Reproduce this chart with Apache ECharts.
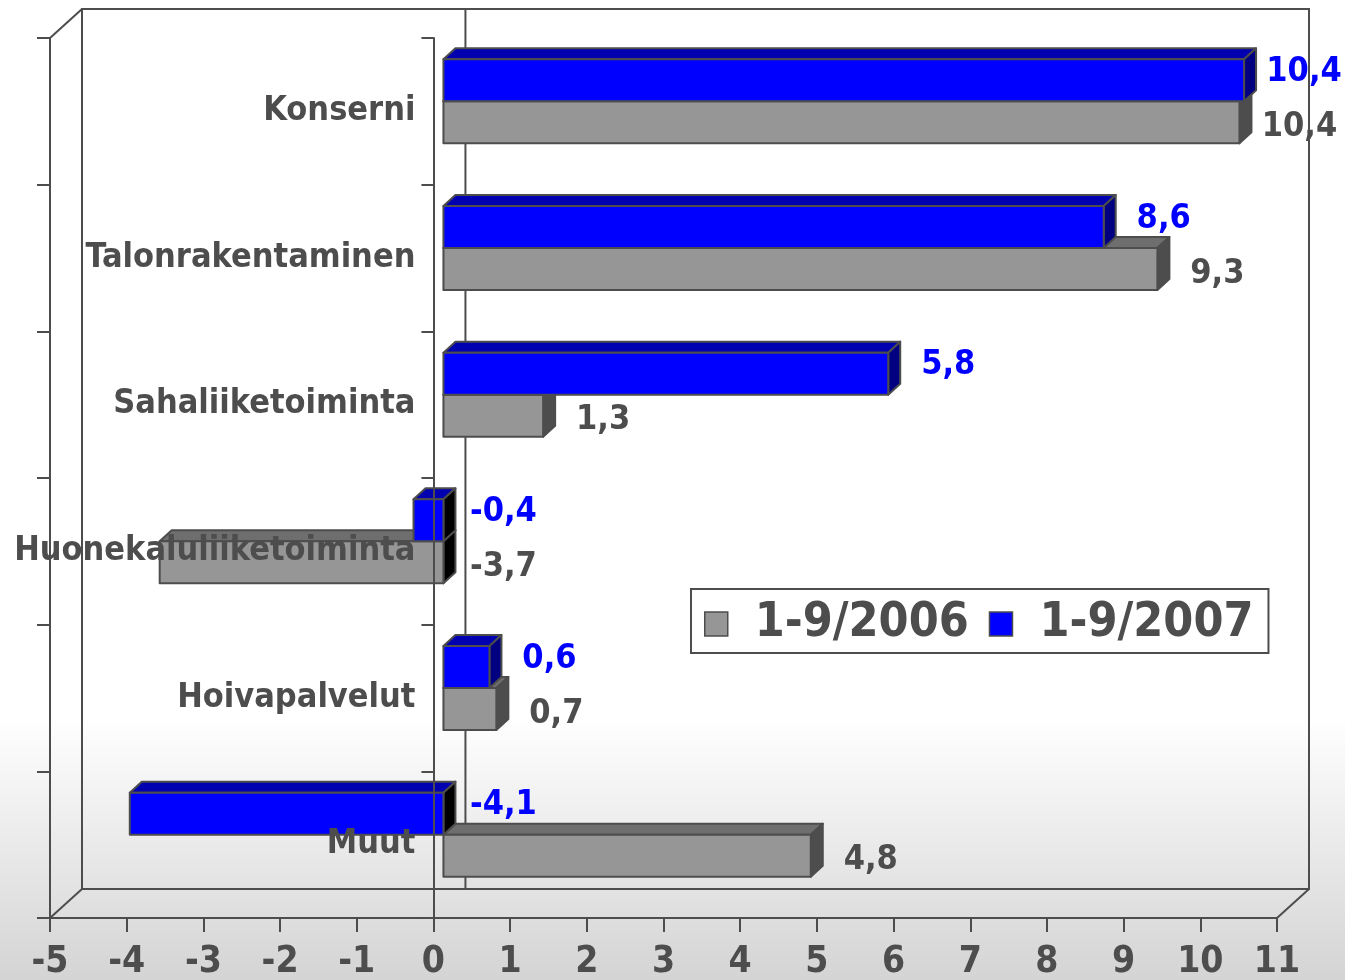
<!DOCTYPE html>
<html>
<head>
<meta charset="utf-8">
<script src="https://cdn.jsdelivr.net/npm/echarts@6/dist/echarts.min.js"></script>
<style>
html,body{margin:0;padding:0;background:#fff}
#chart{width:1345px;height:980px}
</style>
</head>
<body>
<div id="chart"></div>
<script>
var categories = ['Konserni', 'Talonrakentaminen', 'Sahaliiketoiminta', 'Huonekaluliiketoiminta', 'Hoivapalvelut', 'Muut'];
var values2006 = [10.38, 9.31, 1.3, -3.7, 0.69, 4.79];
var values2007 = [10.44, 8.61, 5.8, -0.39, 0.6, -4.09];
var seriesNames = ['1-9/2006', '1-9/2007'];
var xMin = -5, xMax = 11;

var FONT = "'DejaVu Sans Condensed', 'DejaVu Sans', sans-serif";
var INK = '#4d4d4d';
var W = 1345, H = 980;
var GRID = {left: 50, right: 68, top: 38, bottom: 62};
var DX = 32, DY = -29;   // depth of the box
var BX = 10, BY = -10;   // bars sit a little way into the box
var BD = 12, BH = 11;    // depth of a bar
var BAR = 42;

var colors = [
    {front: '#969696', top: '#6e6e6e', side: '#4d4d4d', text: INK},
    {front: '#0000ff', top: '#0000b0', side: '#000080', text: '#0000ff'}
];

// the category axis stands on x = 0, shift it there from the left edge
var zeroOffset = -(0 - xMin) / (xMax - xMin) * (W - GRID.left - GRID.right);

function fmt(v) {
    return v.toFixed(1).replace('.', ',');
}

function barItem(kind) {
    return function (params, api) {
        var cat = api.value(0), val = api.value(1);
        var p0 = api.coord([0, cat]), p1 = api.coord([val, cat]);
        var cy = p0[1] + BY;
        var top = kind === 0 ? cy : cy - BAR;
        var bot = top + BAR;
        var xa = p0[0] + BX, xb = p1[0] + BX;
        var l = Math.min(xa, xb), r = Math.max(xa, xb);
        var c = colors[kind];
        var edge = {stroke: INK, lineWidth: 2, lineJoin: 'round'};
        return {
            type: 'group',
            children: [
                {type: 'polygon', shape: {points: [[l, top], [l + BD, top - BH], [r + BD, top - BH], [r, top]]},
                    style: Object.assign({fill: c.top}, edge)},
                {type: 'polygon', shape: {points: [[r, top], [r + BD, top - BH], [r + BD, bot - BH], [r, bot]]},
                    style: Object.assign({fill: val < 0 ? '#000000' : c.side}, edge)},
                {type: 'rect', shape: {x: l, y: top, width: r - l, height: BAR},
                    style: Object.assign({fill: c.front}, edge)},
                {type: 'text', x: r + 60, y: (top + bot) / 2 + (kind === 0 ? 5 : -8),
                    style: {text: fmt(val), fill: c.text, font: 'bold 34px ' + FONT, align: 'center', verticalAlign: 'middle'}}
            ]
        };
    };
}

function frameItem(params, api) {
    var g = params.coordSys;
    var x = g.x, y = g.y, w = g.width, h = g.height;
    var zx = api.coord([0, 0])[0];
    var st = {stroke: INK, lineWidth: 2, fill: null};
    return {
        type: 'group',
        children: [
            {type: 'polyline', shape: {points: [[x + DX, y + h + DY], [x + DX, y + DY], [x + w + DX, y + DY], [x + w + DX, y + h + DY], [x + DX, y + h + DY]]}, style: st},
            {type: 'line', shape: {x1: x, y1: y, x2: x + DX, y2: y + DY}, style: st},
            {type: 'line', shape: {x1: x, y1: y + h, x2: x + DX, y2: y + h + DY}, style: st},
            {type: 'line', shape: {x1: x + w, y1: y + h, x2: x + w + DX, y2: y + h + DY}, style: st},
            {type: 'line', shape: {x1: zx + DX, y1: y + DY, x2: zx + DX, y2: y + h + DY}, style: st}
        ]
    };
}

var chart = echarts.init(document.getElementById('chart'));
var option = {
    animation: false,
    backgroundColor: {
        type: 'linear', x: 0, y: 0, x2: 0, y2: 1,
        colorStops: [{offset: 0, color: '#ffffff'}, {offset: 0.73, color: '#ffffff'}, {offset: 1, color: '#d4d4d4'}]
    },
    grid: {left: GRID.left, right: GRID.right, top: GRID.top, bottom: GRID.bottom, outerBoundsMode: 'none'},
    legend: {
        left: 691, top: 589,
        padding: [11, 15, 5, 13],
        backgroundColor: '#fff', borderColor: INK, borderWidth: 2,
        itemWidth: 23, itemHeight: 24, itemGap: 20, icon: 'rect',
        selectedMode: false,
        itemStyle: {borderColor: INK, borderWidth: 1.5},
        textStyle: {fontSize: 48, fontWeight: 'bold', fontFamily: FONT, color: INK, padding: [0, 0, 0, 22], lineHeight: 48},
        data: [
            {name: seriesNames[0], itemStyle: {color: colors[0].front}},
            {name: seriesNames[1], itemStyle: {color: colors[1].front}}
        ]
    },
    xAxis: {
        type: 'value', min: xMin, max: xMax, interval: 1,
        splitLine: {show: false},
        axisLine: {show: true, onZero: false, lineStyle: {color: INK, width: 2}},
        axisTick: {show: true, length: 14, lineStyle: {color: INK, width: 2}},
        axisLabel: {fontSize: 37, fontWeight: 'bold', fontFamily: FONT, color: INK, margin: 26}
    },
    yAxis: [
        {
            type: 'category', data: categories, inverse: true, position: 'left',
            axisLine: {show: true, onZero: false, lineStyle: {color: INK, width: 2}},
            axisTick: {show: true, length: 13, lineStyle: {color: INK, width: 2}},
            axisLabel: {show: false},
            splitLine: {show: false}
        },
        {
            type: 'category', data: categories, inverse: true, position: 'left', offset: zeroOffset, z: 10,
            axisLine: {show: true, onZero: false, lineStyle: {color: INK, width: 2}},
            axisTick: {show: true, length: 12, lineStyle: {color: INK, width: 2}},
            axisLabel: {margin: 18, fontSize: 34, fontWeight: 'bold', fontFamily: FONT, color: INK,
                verticalAlign: 'middle', lineHeight: 34, padding: [10, 0, 0, 0]},
            splitLine: {show: false}
        }
    ],
    series: [
        {
            type: 'custom', name: 'frame', silent: true, z: 1,
            data: [[0, categories[0]]], encode: {x: 0, y: 1},
            renderItem: frameItem
        },
        {
            type: 'custom', name: seriesNames[0], z: 3,
            itemStyle: {color: colors[0].front},
            data: categories.map(function (c, i) { return [c, values2006[i]]; }),
            encode: {x: 1, y: 0},
            renderItem: barItem(0)
        },
        {
            type: 'custom', name: seriesNames[1], z: 4,
            itemStyle: {color: colors[1].front},
            data: categories.map(function (c, i) { return [c, values2007[i]]; }),
            encode: {x: 1, y: 0},
            renderItem: barItem(1)
        }
    ]
};
chart.setOption(option);
</script>
</body>
</html>
